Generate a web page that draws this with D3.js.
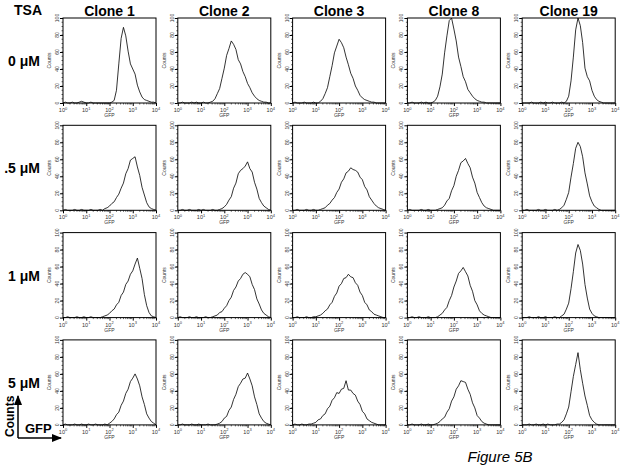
<!DOCTYPE html>
<html>
<head>
<meta charset="utf-8">
<script src="https://cdnjs.cloudflare.com/ajax/libs/d3/7.8.5/d3.min.js"></script>
<style>
  body { margin: 0; background: #fff; }
  svg { display: block; font-family: Arial, "Liberation Sans", sans-serif; }
</style>
</head>
<body>
<div id="plot"></div>
<script>
var width = 624;
var height = 473;

var clones = ["Clone 1", "Clone 2", "Clone 3", "Clone 8", "Clone 19"];
var doses = ["0 \u03bcM", ".5 \u03bcM", "1 \u03bcM", "5 \u03bcM"];
var y_ticks = [0, 20, 40, 60, 80, 100];
var x_ticks = [1, 10, 100, 1000, 10000];

// histogram bins: one every 0.1 decade from 10^0 to 10^4
var log_bins = d3.range(0, 41).map(function(i) { return i / 10; });

// counts per bin (row = TSA dose)
var c1_0  = [0,1,0,0,1,0,0,1,2,1,0,0,1,0,0,0,0,0,0,0,0,1, 3,15,46,76,89,79,61,46,40,34,21,13,7,4,3,2,1,1,0];
var c2_0  = [0,0,1,0,0,0,1,0,1,0,0,1,0,0,1, 2,5,11,17,29,41,56,64,73,69,63,51,46,37,31,23,18,12,8,5,3,2,1,1,0,0];
var c3_0  = [0,1,0,0,0,1,0,0,0,1,0,0, 2,5,11,18,31,44,59,67,75,71,65,54,45,35,29,20,15,9,6,4,3,2,1,1,0,0,0,0,0];
var c8_0  = [0,0,1,0,0,0,1,0,1,0,0,1, 3,8,19,34,59,79,97,100,87,73,54,43,31,25,16,12,8,5,3,2,1,1,0,0,0,0,0,0,0];
var c19_0 = [0,0,0,0,1,0,0,0,1,0,1,0,0,1,0,0,0,1,0, 2,8,26,54,86,100,91,71,41,31,26,15,8,4,2,1,0,0,0,0,0,0];

var c1_05  = [0,1,0,0,0,1,0,0,1,0,0,0,1,0,0,0,1,0, 2,3,5,8,10,15,19,26,32,43,49,59,61,63,51,41,27,18,9,4,2,1,0];
var c2_05  = [0,0,1,0,0,1,0,0,0,1,0,1,0,0,0,1,0,0, 1,2,4,7,12,16,26,32,43,47,49,52,57,49,45,33,25,14,9,5,3,1,0];
var c3_05  = [0,0,1,0,0,0,1,0,0,1,0,0, 1,2,3,6,8,12,15,21,25,33,37,44,46,50,48,47,45,39,36,28,24,16,12,8,5,3,2,1,0];
var c8_05  = [0,1,0,0,0,0,1,0,0,1,0,0,0,1, 2,3,6,11,14,23,29,40,47,56,58,61,55,50,39,32,21,15,9,5,3,2,1,0,0,0,0];
var c19_05 = [0,0,1,0,0,0,0,1,0,0,1,0,0,0,1,0, 1,3,6,13,21,39,55,73,80,75,63,44,31,17,10,5,3,1,0,0,0,0,0,0,0];

var c1_1  = [0,0,1,0,0,0,1,0,0,1,0,0,1,0,0,0,0,1, 2,3,5,8,10,15,18,26,30,39,43,51,55,63,70,58,46,27,14,6,2,1,0];
var c2_1  = [0,1,0,0,0,1,0,0,1,0,0,0,1,0,0, 1,2,3,6,7,11,14,20,24,32,36,43,46,51,53,51,48,39,33,22,16,9,5,3,1,0];
var c3_1  = [0,0,1,0,0,0,1,0,0,1, 1,2,3,5,8,10,15,18,25,29,37,40,46,47,51,48,47,41,38,30,26,18,15,9,7,4,3,2,1,0,0];
var c8_1  = [0,0,1,0,0,1,0,0,0,1,0,0,0, 1,3,5,9,12,20,26,36,43,52,55,59,54,49,38,31,20,15,8,5,3,2,1,0,0,0,0,0];
var c19_1 = [0,0,0,1,0,0,0,1,0,0,1,0,0,0,1,0,0, 2,4,10,17,34,54,76,86,79,63,39,23,10,5,2,1,0,0,0,0,0,0,0,0];

var c1_5  = [0,1,0,0,0,1,0,0,1,0,0,1,0,0,1,0,0,0,1,0, 2,4,7,12,15,23,28,37,42,51,55,60,54,46,33,24,13,8,4,2,0];
var c2_5  = [0,0,1,0,0,0,1,0,0,1,0,0,0,1,0,0,0, 1,2,4,8,10,17,21,30,36,45,49,54,55,61,54,46,33,24,13,8,4,2,1,0];
var c3_5  = [0,1,0,0,1,0,0,1, 1,2,3,6,7,11,13,19,22,29,32,38,37,42,43,52,41,41,37,35,28,24,16,13,7,5,3,2,1,0,0,0,0];
var c8_5  = [0,0,1,0,0,0,1,0,0,1,0,0, 1,2,4,7,9,15,19,28,33,42,46,52,51,50,42,36,26,20,11,8,4,2,1,0,0,0,0,0,0];
var c19_5 = [0,0,0,1,0,0,1,0,0,1,0,1,0,0,0,1, 1,3,6,13,21,39,57,71,85,65,49,34,23,11,6,3,1,0,0,0,0,0,0,0,0];

// rows = doses, columns = clones
var panels = [
    [c1_0,  c2_0,  c3_0,  c8_0,  c19_0],
    [c1_05, c2_05, c3_05, c8_05, c19_05],
    [c1_1,  c2_1,  c3_1,  c8_1,  c19_1],
    [c1_5,  c2_5,  c3_5,  c8_5,  c19_5]
];

var box_left = 63;
var box_top = 18;
var col_step = 114.8;
var row_step = 107.3;
var box_w = 93;
var box_h = 85;

var canvas = d3.select('#plot')
    .append('svg')
    .attr('width', width)
    .attr('height', height);

var x_scale = d3.scaleLog().domain([1, 10000]).range([0, box_w]);
var y_scale = d3.scaleLinear().domain([0, 100]).range([box_h, 0]);

var line = d3.line()
    .x(function(d, i) { return x_scale(Math.pow(10, log_bins[i])); })
    .y(function(d) { return y_scale(d); });

// minor ticks on the log axis
var x_minor = [];
for (var e = 0; e < 4; e++) {
    for (var m = 2; m < 10; m++) x_minor.push(m * Math.pow(10, e));
}

// column titles
canvas.selectAll('text.clone')
    .data(clones)
    .enter()
    .append('text')
    .attr('class', 'clone')
    .attr('x', function(d, i) { return box_left + i * col_step + box_w / 2; })
    .attr('y', 16)
    .attr('text-anchor', 'middle')
    .attr('font-size', 14)
    .attr('font-weight', 'bold')
    .text(function(d) { return d; });

canvas.append('text')
    .attr('x', 14)
    .attr('y', 15)
    .attr('font-size', 14)
    .attr('font-weight', 'bold')
    .text('TSA');

// row labels
canvas.selectAll('text.dose')
    .data(doses)
    .enter()
    .append('text')
    .attr('class', 'dose')
    .attr('x', 40)
    .attr('y', function(d, i) { return box_top + i * row_step + 48; })
    .attr('text-anchor', 'end')
    .attr('font-size', 14)
    .attr('font-weight', 'bold')
    .text(function(d) { return d; });

panels.forEach(function(row, r) {
    row.forEach(function(counts, c) {
        var g = canvas.append('g')
            .attr('transform', 'translate(' + (box_left + c * col_step) + ',' + (box_top + r * row_step) + ')');

        // y axis
        var y_axis = d3.axisLeft(y_scale).tickValues(y_ticks).tickSize(3).tickFormat('');
        g.append('g').call(y_axis).call(function(s) { s.select('.domain').remove(); });
        g.append('g').selectAll('line')
            .data(d3.range(5, 100, 5))
            .enter()
            .append('line')
            .attr('x1', -1.5).attr('x2', 0)
            .attr('y1', function(d) { return y_scale(d); })
            .attr('y2', function(d) { return y_scale(d); })
            .attr('stroke', '#000').attr('stroke-width', 0.6);

        g.selectAll('text.ylab')
            .data(y_ticks)
            .enter()
            .append('text')
            .attr('class', 'ylab')
            .attr('transform', function(d) { return 'translate(-4,' + y_scale(d) + ') rotate(-90)'; })
            .attr('text-anchor', 'middle')
            .attr('font-size', 5)
            .attr('fill', '#333')
            .text(function(d) { return d; });

        g.append('text')
            .attr('transform', 'translate(-12,' + y_scale(50) + ') rotate(-90)')
            .attr('text-anchor', 'middle')
            .attr('font-size', 5)
            .attr('fill', '#333')
            .text('Counts');

        // x axis
        var x_axis = d3.axisBottom(x_scale).tickValues(x_ticks).tickSize(3).tickFormat('');
        g.append('g').attr('transform', 'translate(0,' + box_h + ')').call(x_axis)
            .call(function(s) { s.select('.domain').remove(); });
        g.append('g').selectAll('line')
            .data(x_minor)
            .enter()
            .append('line')
            .attr('x1', function(d) { return x_scale(d); })
            .attr('x2', function(d) { return x_scale(d); })
            .attr('y1', box_h).attr('y2', box_h + 1.5)
            .attr('stroke', '#000').attr('stroke-width', 0.6);

        var xl = g.selectAll('text.xlab')
            .data(x_ticks)
            .enter()
            .append('text')
            .attr('class', 'xlab')
            .attr('x', function(d) { return x_scale(d); })
            .attr('y', box_h + 9)
            .attr('text-anchor', 'middle')
            .attr('font-size', 5.5)
            .attr('fill', '#333');
        xl.append('tspan').text('10');
        xl.append('tspan')
            .attr('dy', -2.5)
            .attr('font-size', 4)
            .text(function(d) { return Math.round(Math.log10(d)); });

        g.append('text')
            .attr('x', box_w / 2)
            .attr('y', box_h + 14)
            .attr('text-anchor', 'middle')
            .attr('font-size', 5)
            .attr('fill', '#333')
            .text('GFP');

        // frame
        g.append('rect')
            .attr('width', box_w)
            .attr('height', box_h)
            .attr('fill', 'none')
            .attr('stroke', '#000')
            .attr('stroke-width', 1);

        // histogram
        g.append('path')
            .datum(counts)
            .attr('d', line)
            .attr('fill', 'none')
            .attr('stroke', '#000')
            .attr('stroke-width', 0.8);
    });
});

// Counts / GFP key
canvas.append('defs').append('marker')
    .attr('id', 'arrow')
    .attr('viewBox', '0 0 10 10')
    .attr('refX', 9).attr('refY', 5)
    .attr('markerWidth', 7).attr('markerHeight', 7)
    .attr('orient', 'auto')
    .append('path')
    .attr('d', 'M0,1 L10,5 L0,9 Z')
    .attr('fill', '#000');

canvas.append('path')
    .attr('d', 'M18,438 L18,396')
    .attr('stroke', '#000').attr('stroke-width', 1.5)
    .attr('marker-end', 'url(#arrow)');
canvas.append('path')
    .attr('d', 'M18,438 L61,438')
    .attr('stroke', '#000').attr('stroke-width', 1.5)
    .attr('marker-end', 'url(#arrow)');

canvas.append('text')
    .attr('transform', 'translate(14,437) rotate(-90)')
    .attr('font-size', 12)
    .attr('font-weight', 'bold')
    .text('Counts');

canvas.append('text')
    .attr('x', 25)
    .attr('y', 433)
    .attr('font-size', 13)
    .attr('font-weight', 'bold')
    .text('GFP');

canvas.append('text')
    .attr('x', 500)
    .attr('y', 462)
    .attr('text-anchor', 'middle')
    .attr('font-size', 15)
    .attr('font-style', 'italic')
    .text('Figure 5B');
</script>
</body>
</html>
